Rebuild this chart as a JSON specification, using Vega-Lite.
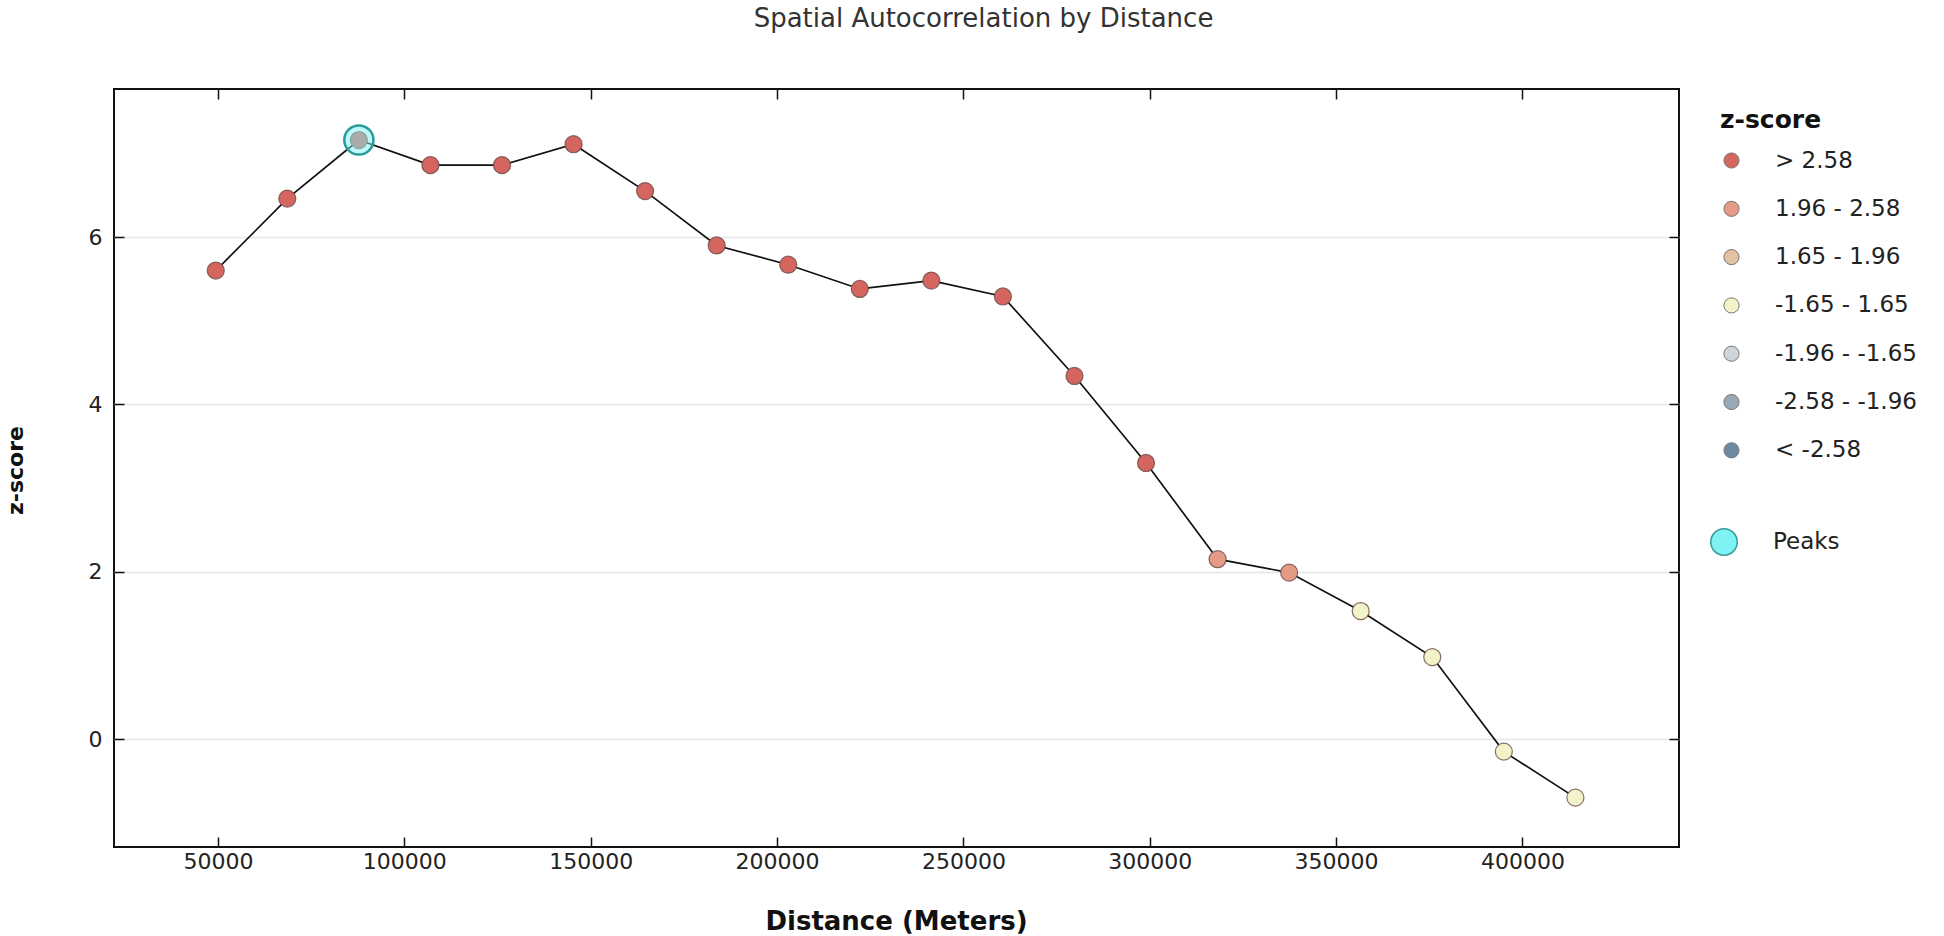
{
  "$schema": "https://vega.github.io/schema/vega-lite/v6.json",
  "width": 1565,
  "height": 758,
  "autosize": {"type": "none"},
  "padding": {"left": 114, "top": 89, "right": 265, "bottom": 89},
  "background": "white",
  "config": {
    "font": "DejaVu Sans",
    "view": {"stroke": "#111", "strokeWidth": 2},
    "axis": {"labelFont": "DejaVu Sans", "titleFont": "DejaVu Sans", "labelColor": "#222", "titleColor": "#111"},
    "legend": {"labelFont": "DejaVu Sans", "titleFont": "DejaVu Sans"}
  },
  "title": {
    "text": "Spatial Autocorrelation by Distance",
    "anchor": "middle",
    "dx": 87,
    "offset": 56,
    "fontSize": 26,
    "fontWeight": "normal",
    "color": "#333"
  },
  "datasets": {
    "pts": [
      {"d": 49400, "z": 5.60, "cls": "> 2.58"},
      {"d": 68600, "z": 6.46, "cls": "> 2.58"},
      {"d": 87800, "z": 7.16, "cls": "> 2.58"},
      {"d": 107000, "z": 6.86, "cls": "> 2.58"},
      {"d": 126200, "z": 6.86, "cls": "> 2.58"},
      {"d": 145400, "z": 7.11, "cls": "> 2.58"},
      {"d": 164600, "z": 6.55, "cls": "> 2.58"},
      {"d": 183800, "z": 5.90, "cls": "> 2.58"},
      {"d": 203000, "z": 5.67, "cls": "> 2.58"},
      {"d": 222200, "z": 5.38, "cls": "> 2.58"},
      {"d": 241400, "z": 5.48, "cls": "> 2.58"},
      {"d": 260600, "z": 5.29, "cls": "> 2.58"},
      {"d": 279800, "z": 4.34, "cls": "> 2.58"},
      {"d": 299000, "z": 3.30, "cls": "> 2.58"},
      {"d": 318200, "z": 2.15, "cls": "1.96 - 2.58"},
      {"d": 337400, "z": 1.99, "cls": "1.96 - 2.58"},
      {"d": 356600, "z": 1.53, "cls": "-1.65 - 1.65"},
      {"d": 375800, "z": 0.98, "cls": "-1.65 - 1.65"},
      {"d": 395000, "z": -0.15, "cls": "-1.65 - 1.65"},
      {"d": 414200, "z": -0.70, "cls": "-1.65 - 1.65"}
    ],
    "peaks": [
      {"d": 87800, "z": 7.16, "label": "Peaks"}
    ]
  },
  "layer": [
    {
      "data": {"name": "pts"},
      "mark": {"type": "line", "color": "#111", "strokeWidth": 1.7},
      "encoding": {
        "x": {
          "field": "d", "type": "quantitative",
          "scale": {"domain": [22100, 442000], "nice": false, "zero": false},
          "axis": {
            "orient": "bottom",
            "values": [50000, 100000, 150000, 200000, 250000, 300000, 350000, 400000],
            "format": "d",
            "grid": false,
            "domain": false,
            "tickSize": -10,
            "tickColor": "#111",
            "tickWidth": 1.5,
            "labelFontSize": 22,
            "labelPadding": 14,
            "title": "Distance (Meters)",
            "titleFontSize": 26,
            "titleFontWeight": "bold",
            "titleX": 782,
            "titleY": 74,
            "titleBaseline": "middle",
            "titleAlign": "center"
          }
        },
        "y": {
          "field": "z", "type": "quantitative",
          "scale": {"domain": [-1.29, 7.77], "nice": false, "zero": false},
          "axis": {
            "orient": "left",
            "values": [0, 2, 4, 6],
            "grid": true,
            "gridColor": "#e6e6e6",
            "gridWidth": 1.5,
            "domain": false,
            "tickSize": -10,
            "tickColor": "#111",
            "tickWidth": 1.5,
            "labelFontSize": 22,
            "labelPadding": 22,
            "title": "z-score",
            "titleFontSize": 22,
            "titleFontWeight": "bold",
            "titleAngle": -90,
            "titleX": -99,
            "titleY": 381,
            "titleAlign": "center",
            "titleBaseline": "middle"
          }
        }
      }
    },
    {
      "data": {"name": "pts"},
      "mark": {"type": "point", "filled": true, "size": 290, "opacity": 1, "stroke": "#6a4a48", "strokeWidth": 1.2, "strokeOpacity": 0.8},
      "encoding": {
        "x": {"field": "d", "type": "quantitative", "axis": {"orient": "top", "labels": false, "title": null, "grid": false, "domain": false, "tickSize": -10, "tickColor": "#111", "tickWidth": 1.5, "values": [50000, 100000, 150000, 200000, 250000, 300000, 350000, 400000]}},
        "y": {"field": "z", "type": "quantitative", "axis": {"orient": "right", "labels": false, "title": null, "grid": false, "domain": false, "tickSize": -10, "tickColor": "#111", "tickWidth": 1.5, "values": [0, 2, 4, 6]}},
        "color": {
          "field": "cls", "type": "nominal",
          "scale": {
            "domain": ["> 2.58", "1.96 - 2.58", "1.65 - 1.96", "-1.65 - 1.65", "-1.96 - -1.65", "-2.58 - -1.96", "< -2.58"],
            "range": ["#d4665f", "#e59a85", "#e3c1a5", "#f3f3c9", "#cfd4d8", "#9aa9b6", "#6d8aa5"]
          },
          "legend": {
            "title": "z-score",
            "orient": "none",
            "legendX": 1606,
            "legendY": 19,
            "titleFontSize": 25,
            "titleFontWeight": "bold",
            "titleColor": "#111",
            "titlePadding": 16,
            "labelFontSize": 23,
            "labelColor": "#222",
            "labelOffset": 32,
            "symbolType": "circle",
            "symbolSize": 230,
            "symbolStrokeColor": "#777",
            "symbolStrokeWidth": 1,
            "rowPadding": 24.3
          }
        }
      }
    },
    {
      "data": {"name": "peaks"},
      "mark": {"type": "point", "filled": true, "size": 850, "fillOpacity": 0.5, "stroke": "#2a9a9a", "strokeWidth": 2.5, "strokeOpacity": 1},
      "encoding": {
        "x": {"field": "d", "type": "quantitative", "axis": null},
        "y": {"field": "z", "type": "quantitative", "axis": null},
        "fill": {
          "field": "label", "type": "nominal",
          "scale": {"domain": ["Peaks"], "range": ["#7ff2f4"]},
          "legend": {
            "title": null,
            "orient": "none",
            "legendX": 1596,
            "legendY": 439,
            "labelFontSize": 23,
            "labelColor": "#222",
            "labelOffset": 35,
            "symbolType": "circle",
            "symbolSize": 700,
            "symbolOpacity": 1,
            "symbolFillColor": "#8af3f5",
            "symbolStrokeColor": "#3a9a9a",
            "symbolStrokeWidth": 1.5
          }
        }
      }
    }
  ]
}
